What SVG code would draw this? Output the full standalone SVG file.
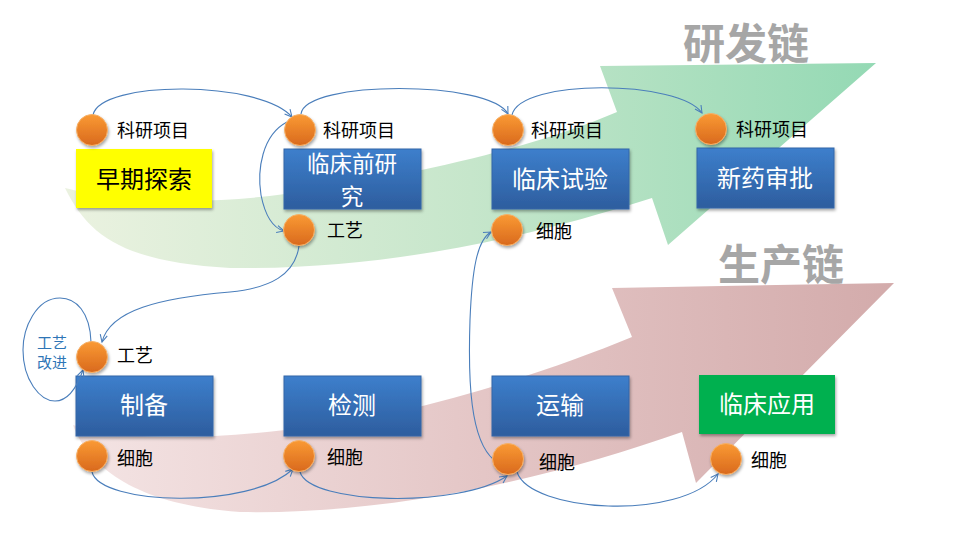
<svg xmlns="http://www.w3.org/2000/svg" width="960" height="540" viewBox="0 0 960 540">
<defs>
<linearGradient id="gGreen" x1="0" y1="0" x2="1" y2="0">
<stop offset="0" stop-color="#ebf2e0"/>
<stop offset="0.5" stop-color="#c6e6cb"/>
<stop offset="1" stop-color="#94d9b4"/>
</linearGradient>
<linearGradient id="gRed" x1="0" y1="0" x2="1" y2="0">
<stop offset="0" stop-color="#f4e4e4"/>
<stop offset="0.5" stop-color="#e4c6c6"/>
<stop offset="1" stop-color="#d3abab"/>
</linearGradient>
<linearGradient id="gBlue" x1="0" y1="0" x2="0" y2="1">
<stop offset="0" stop-color="#3d7fcc"/>
<stop offset="1" stop-color="#2d5d9e"/>
</linearGradient>
<linearGradient id="gOrange" x1="0" y1="0" x2="0" y2="1">
<stop offset="0" stop-color="#fa9a34"/>
<stop offset="1" stop-color="#d9691d"/>
</linearGradient>
<filter id="sh" x="-20%" y="-20%" width="140%" height="150%">
<feDropShadow dx="1" dy="2" stdDeviation="1.5" flood-color="#000" flood-opacity="0.35"/>
</filter>
<marker id="arr" viewBox="0 0 10 10" refX="9" refY="5" markerWidth="9" markerHeight="9" orient="auto" markerUnits="userSpaceOnUse">
<path d="M1,1 L9,5 L1,9" fill="none" stroke="#4a7ebb" stroke-width="1.2"/>
</marker>
<style>
.box{fill:url(#gBlue);stroke:#3566a8;stroke-width:1;filter:url(#sh)}
.bt{font-family:"Noto Sans CJK SC","Noto Sans",sans-serif;font-size:24px;fill:#fff;text-anchor:middle}
.dot{fill:url(#gOrange);stroke:#f6b067;stroke-width:1;filter:url(#sh)}
.lb{font-family:"Noto Sans CJK SC","Noto Sans",sans-serif;font-size:18px;fill:#000}
.ttl{font-family:"Noto Sans CJK SC","Noto Sans",sans-serif;font-size:42px;font-weight:bold;fill:#a6a6a6;text-anchor:middle}
.cn{fill:none;stroke:#4a7ebb;stroke-width:1.1}
</style>
</defs>
<rect width="960" height="540" fill="#fff"/>

<g id="rd-arrow">
<path d="M65,188 C90,240 130,262 230,268 C380,270 520,240 652,198 L668,245 L876,63 L600,66 L617,112 C540,145 420,175 285,194 C200,206 110,200 65,188 Z" fill="url(#gGreen)"/>
<text class="ttl" x="746" y="59">研发链</text>
</g>
<g id="prod-arrow">
<path d="M73,425 C90,470 140,505 240,512 C400,515 560,475 682,432 L696,483 L894,283 L612,288 L632,337 C540,375 400,420 285,430 C200,440 120,440 73,425 Z" fill="url(#gRed)"/>
<text class="ttl" x="781" y="280">生产链</text>
</g>

<g id="n-early">
<rect x="76" y="149" width="136" height="59" fill="#ffff00" filter="url(#sh)"/>
<text class="bt" x="144" y="188" style="fill:#000">早期探索</text>
</g>
<g id="n-preclinical">
<rect class="box" x="284" y="149" width="137" height="60"/>
<text class="bt" style="font-size:22.5px"><tspan x="352" y="172">临床前研</tspan><tspan x="352" y="205">究</tspan></text>
</g>
<g id="n-clinical">
<rect class="box" x="492" y="149" width="137" height="60"/>
<text class="bt" x="560" y="188">临床试验</text>
</g>
<g id="n-approval">
<rect class="box" x="697" y="148" width="137" height="60"/>
<text class="bt" x="765" y="187">新药审批</text>
</g>
<g id="n-prep">
<rect class="box" x="76" y="376" width="137" height="60"/>
<text class="bt" x="144" y="414">制备</text>
</g>
<g id="n-test">
<rect class="box" x="284" y="376" width="137" height="60"/>
<text class="bt" x="352" y="414">检测</text>
</g>
<g id="n-transport">
<rect class="box" x="492" y="376" width="137" height="60"/>
<text class="bt" x="560" y="414">运输</text>
</g>
<g id="n-application">
<rect x="699" y="375" width="136" height="59" fill="#00b050" filter="url(#sh)"/>
<text class="bt" x="767" y="413">临床应用</text>
</g>

<g id="connectors">
<path class="cn" d="M93,115 C100,80 260,80 292,117" marker-end="url(#arr)"/>
<path class="cn" d="M301,114 C305,80 490,80 508,114" marker-end="url(#arr)"/>
<path class="cn" d="M512,115 C520,78 680,80 702,113" marker-end="url(#arr)"/>
<path class="cn" d="M287,122 C262,135 257,170 261,195 C265,215 273,228 284,231" marker-end="url(#arr)"/>
<path class="cn" d="M299,246 C295,275 270,288 230,292 C160,298 110,310 102,342" marker-end="url(#arr)"/>
<path class="cn" d="M494,460 C470,440 468,380 470,320 C472,270 477,240 491,232" marker-end="url(#arr)"/>
<path class="cn" d="M92,472 C100,505 250,510 293,469" marker-end="url(#arr)"/>
<path class="cn" d="M300,472 C310,505 460,508 507,476" marker-end="url(#arr)"/>
<path class="cn" d="M517,472 C530,512 680,522 718,474" marker-end="url(#arr)"/>
<path class="cn" d="M91,342 C90,312 76,298 60,298 C36,298 23,328 23,350 C23,380 40,401 55,401 C66,401 76,390 83,370" marker-end="url(#arr)"/>
</g>

<g id="p-loop-label">
<text font-family="Noto Sans CJK SC, sans-serif" font-size="15" fill="#2e75b6" text-anchor="middle"><tspan x="52" y="348">工艺</tspan><tspan x="52" y="368">改进</tspan></text>
</g>

<g id="p1"><circle class="dot" cx="92" cy="130" r="15.5"/><text class="lb" x="117" y="137">科研项目</text></g>
<g id="p2"><circle class="dot" cx="300" cy="130" r="15.5"/><text class="lb" x="323" y="137">科研项目</text></g>
<g id="p3"><circle class="dot" cx="508" cy="130" r="15.5"/><text class="lb" x="531" y="137">科研项目</text></g>
<g id="p4"><circle class="dot" cx="711" cy="129" r="15.5"/><text class="lb" x="736" y="136">科研项目</text></g>
<g id="p5"><circle class="dot" cx="299" cy="230" r="15.5"/><text class="lb" x="327" y="237">工艺</text></g>
<g id="p6"><circle class="dot" cx="507" cy="230" r="15.5"/><text class="lb" x="536" y="238">细胞</text></g>
<g id="p7"><circle class="dot" cx="92" cy="357" r="15.5"/><text class="lb" x="117" y="362">工艺</text></g>
<g id="p8"><circle class="dot" cx="92" cy="456" r="15.5"/><text class="lb" x="117" y="465">细胞</text></g>
<g id="p9"><circle class="dot" cx="299" cy="456" r="15.5"/><text class="lb" x="327" y="464">细胞</text></g>
<g id="p10"><circle class="dot" cx="508" cy="459" r="15.5"/><text class="lb" x="539" y="469">细胞</text></g>
<g id="p11"><circle class="dot" cx="726" cy="459" r="15.5"/><text class="lb" x="751" y="467">细胞</text></g>
</svg>
